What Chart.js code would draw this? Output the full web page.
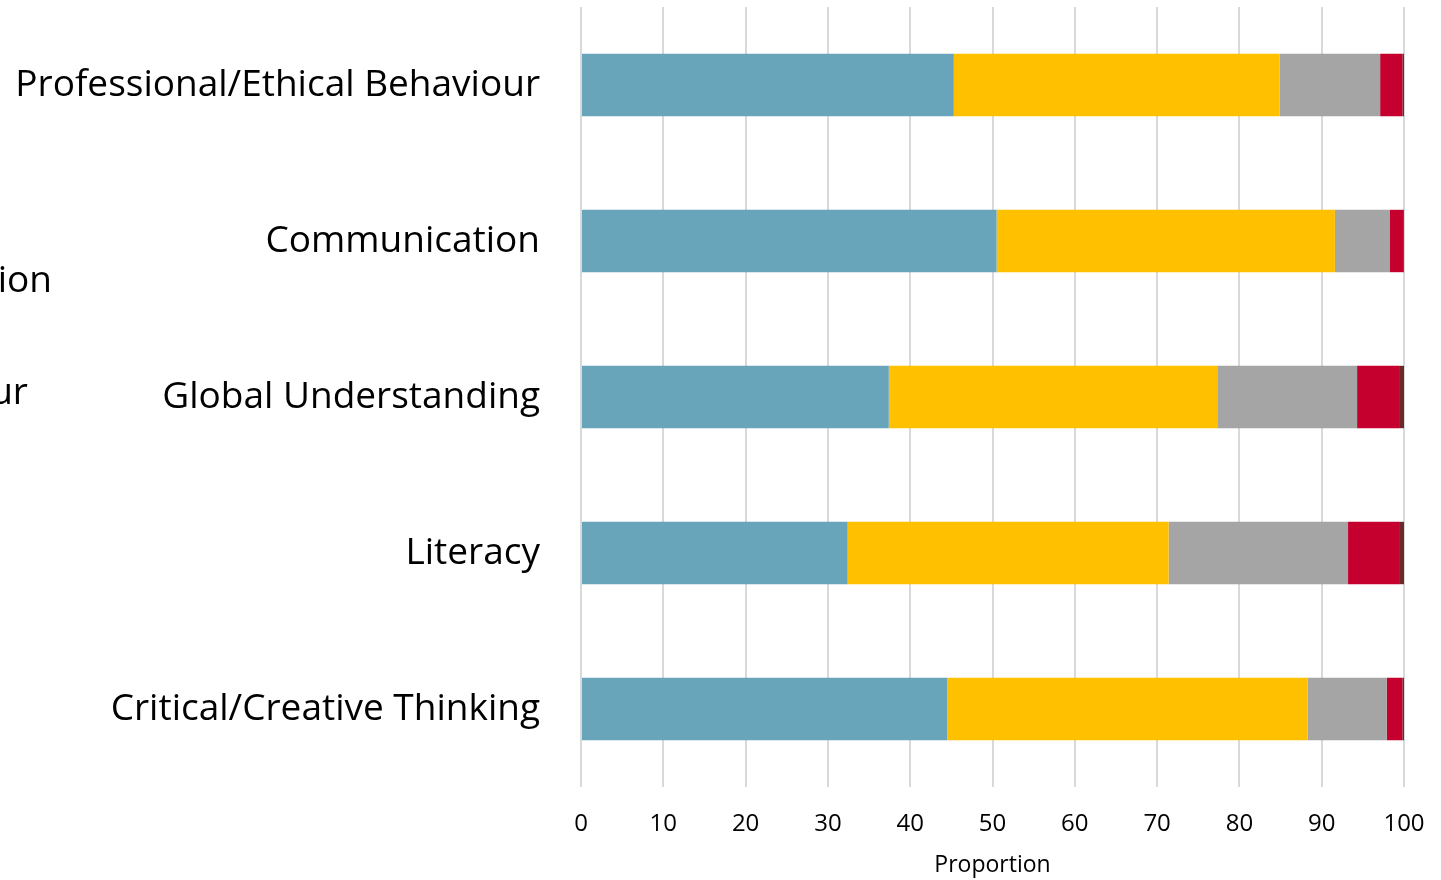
<!DOCTYPE html>
<html>
<head>
<meta charset="utf-8">
<script src="https://cdn.jsdelivr.net/npm/chart.js@4/dist/chart.umd.min.js"></script>
<style>
  html, body { margin: 0; padding: 0; background: #fff; overflow: hidden; }
  #wrap { position: relative; width: 1441px; height: 880px; }
  .stray { position: absolute; font-family: 'Open Sans', sans-serif; font-size: 37px; color: #000; white-space: nowrap; line-height: 1; }
</style>
</head>
<body>
<div id="wrap">
  <canvas id="myChart" width="1441" height="880"></canvas>
  <span class="stray" style="right:1389px; top:259px;">Communication</span>
  <span class="stray" style="right:1413px; top:371px;">Professional/Ethical Behaviour</span>
</div>
<script>
// categories, top to bottom
var categories = ['Professional/Ethical Behaviour', 'Communication', 'Global Understanding', 'Literacy', 'Critical/Creative Thinking'];

// stacked proportions per category
var seriesA = [45.3, 50.5, 37.4, 32.4, 44.5];
var seriesB = [39.6, 41.1, 40.0, 39.0, 43.8];
var seriesC = [12.2, 6.7, 16.9, 21.8, 9.6];
var seriesD = [2.7, 1.6, 5.1, 6.2, 1.9];
var seriesE = [0.2, 0.1, 0.6, 0.6, 0.2];

var xTicks = [0, 10, 20, 30, 40, 50, 60, 70, 80, 90, 100];

var colors = ['#69a5ba', '#ffc000', '#a5a5a5', '#c5002f', '#6b2a2a'];

var ctx = document.getElementById('myChart').getContext('2d');
var myChart = new Chart(ctx, {
  type: 'bar',
  data: {
    labels: categories,
    datasets: [seriesA, seriesB, seriesC, seriesD, seriesE].map(function(vals, i) {
      return {
        data: vals,
        backgroundColor: colors[i],
        borderWidth: 0,
        barPercentage: 0.4,
        categoryPercentage: 1
      };
    })
  },
  options: {
    indexAxis: 'y',
    responsive: false,
    animation: false,
    layout: { padding: { top: 7, right: 37, left: 0, bottom: 0 } },
    plugins: {
      legend: { display: false },
      tooltip: { enabled: false }
    },
    scales: {
      x: {
        stacked: true,
        min: 0,
        max: 100,
        afterBuildTicks: function(axis) {
          axis.ticks = xTicks.map(function(v) { return { value: v }; });
        },
        afterFit: function(axis) {
          axis.height = 93;
          axis.paddingLeft = 0;
          axis.paddingRight = 0;
        },
        grid: { color: '#d9d9d9', lineWidth: 2, drawTicks: false },
        border: { display: false },
        ticks: {
          padding: 23,
          color: '#000',
          font: { family: "'Open Sans', sans-serif", size: 24 }
        },
        title: {
          display: true,
          text: 'Proportion',
          color: '#000',
          font: { family: "'Open Sans', sans-serif", size: 23 },
          padding: { top: 0, bottom: 1 }
        }
      },
      y: {
        stacked: true,
        afterFit: function(axis) {
          axis.width = 581;
          axis.paddingTop = 0;
          axis.paddingBottom = 0;
        },
        grid: { display: false, drawTicks: false },
        border: { display: false },
        ticks: {
          padding: 41,
          color: '#000',
          font: { family: "'Open Sans', sans-serif", size: 37 }
        }
      }
    }
  }
});
</script>
</body>
</html>
